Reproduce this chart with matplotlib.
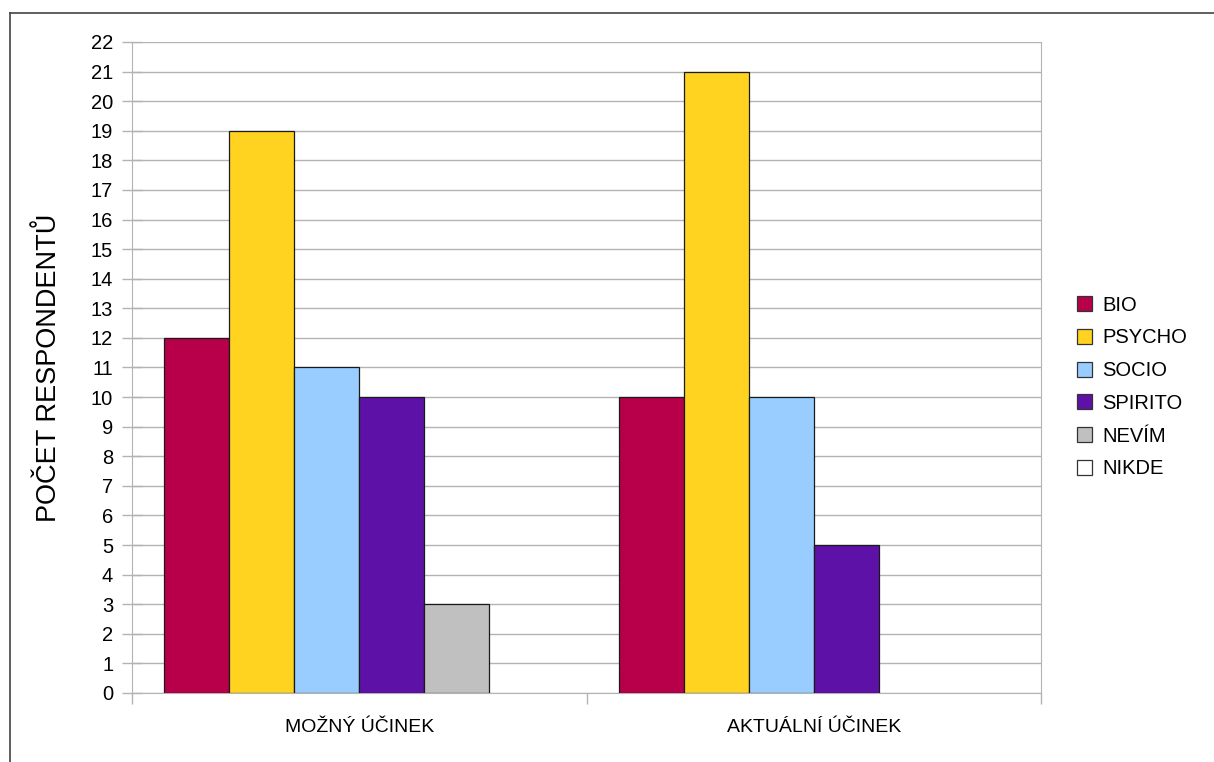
import matplotlib.pyplot as plt
import numpy as np
from matplotlib.patches import Patch
from matplotlib.lines import Line2D

plt.rcParams['font.family'] = ['Liberation Sans', 'DejaVu Sans']

categories = ['MOŽNÝ ÚČINEK', 'AKTUÁLNÍ ÚČINEK']
series = ['BIO', 'PSYCHO', 'SOCIO', 'SPIRITO', 'NEVÍM', 'NIKDE']
values = {
    'BIO': [12, 10],
    'PSYCHO': [19, 21],
    'SOCIO': [11, 10],
    'SPIRITO': [10, 5],
    'NEVÍM': [3, 0],
    'NIKDE': [0, 0],
}
colors = ['#b8004a', '#ffd320', '#99ccff', '#5e11a6', '#c0c0c0', '#ffffff']
yticks = list(range(0, 23))

fig = plt.figure(figsize=(12.14, 7.62), dpi=100)
ax = fig.add_axes([132/1214, 69/762, (1041-132)/1214, (693-42)/762])

x = np.arange(len(categories))
w = 1/7
for i, s in enumerate(series):
    v = np.array(values[s])
    off = (i - 2.5) * w
    # only draw non-zero bars
    mask = v > 0
    ax.bar(x[mask] + off, v[mask], width=w, color=colors[i],
           edgecolor='#1a1a1a', linewidth=0.9, zorder=3)

ax.set_xlim(-0.5, 1.5)
ax.set_ylim(0, 22)
ax.set_yticks(yticks)
ax.set_yticklabels([str(t) for t in yticks], fontsize=14.5)
ax.yaxis.grid(True, color='#b3b3b3', linewidth=1, zorder=0)
ax.tick_params(axis='y', direction='inout', length=15, color='#b3b3b3', width=1, pad=6)

ax.set_xticks(x)
ax.set_xticklabels(categories, fontsize=14)
ax.tick_params(axis='x', length=0, pad=19)
ax.set_xticks([-0.5, 0.5, 1.5], minor=True)
ax.tick_params(axis='x', which='minor', direction='out', length=8, color='#b3b3b3', width=1)

for sp in ['left', 'bottom', 'right']:
    ax.spines[sp].set_color('#b3b3b3')
ax.spines['top'].set_visible(False)

ax.set_ylabel('POČET RESPONDENTŮ', fontsize=19.5, labelpad=21)

handles = [Patch(facecolor=c, edgecolor='#333333', linewidth=0.9) for c in colors]
fig.legend(handles, series, loc='center left', bbox_to_anchor=(1077/1214, 1 - 387/762),
           frameon=False, fontsize=14.5, handlelength=0.75, handleheight=0.75,
           handletextpad=0.5, labelspacing=0.68, borderpad=0, borderaxespad=0)

# outer frame (top and left edges)
fig.add_artist(Line2D([10/1214, 1], [1 - 13/762, 1 - 13/762], color='#444444', linewidth=1.2))
fig.add_artist(Line2D([10/1214, 10/1214], [0, 1 - 13/762], color='#444444', linewidth=1.2))

fig.savefig('out.png', dpi=100)
